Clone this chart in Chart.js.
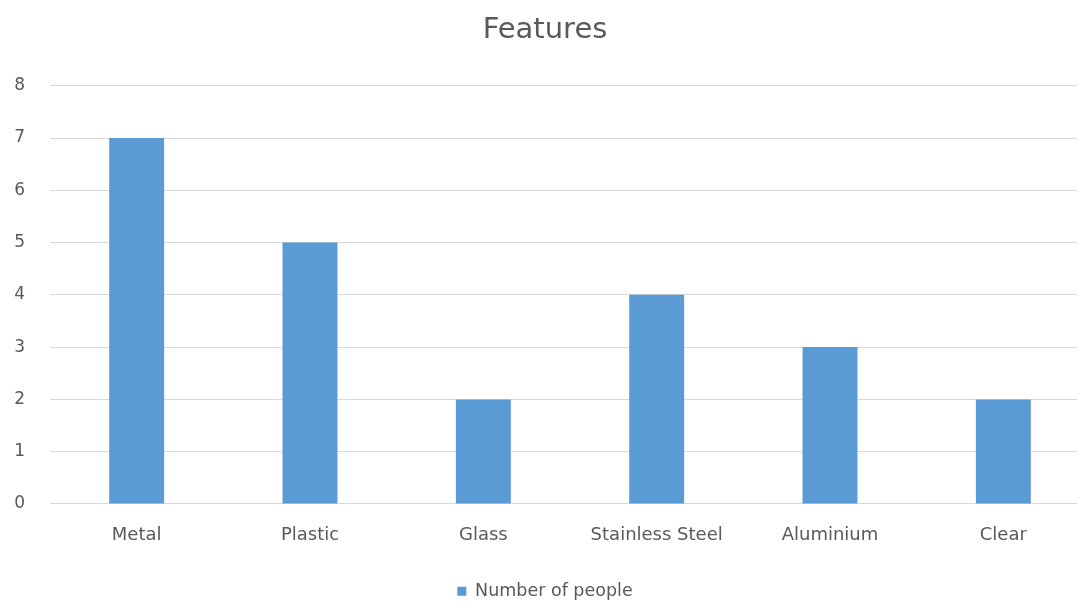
<!DOCTYPE html>
<html>
<head>
<meta charset="utf-8">
<title>Features</title>
<script src="https://cdn.jsdelivr.net/npm/chart.js@4.4.1/dist/chart.umd.min.js"></script>
<style>
  html, body { margin: 0; padding: 0; background: #fff; overflow: hidden; }
  /* the chart is wider than the view; its right margin is cut off */
  #wrap { width: 1077px; height: 604px; overflow: hidden; }
</style>
</head>
<body>
<div id="wrap"><canvas id="featuresChart" width="1122" height="604"></canvas></div>
<script>
// materials and how many people picked each
const categories = ["Metal", "Plastic", "Glass", "Stainless Steel", "Aluminium", "Clear"];
const peopleCounts = [7, 5, 2, 4, 3, 2];
const yTicks = [0, 1, 2, 3, 4, 5, 6, 7, 8];

const textGray = "#595959";
const barBlue = "#5B9BD5";
const fontFamily = "'DejaVu Sans', sans-serif";

new Chart(document.getElementById("featuresChart"), {
  type: "bar",
  data: {
    labels: categories,
    datasets: [{
      label: "Number of people",
      data: peopleCounts,
      backgroundColor: barBlue,
      borderWidth: 0,
      barPercentage: 1,
      categoryPercentage: 0.317
    }]
  },
  options: {
    responsive: false,
    animation: false,
    layout: { padding: { left: 0, right: 32, top: 0, bottom: -6 } },
    plugins: {
      title: {
        display: true,
        text: "Features",
        color: textGray,
        font: { family: fontFamily, size: 29, weight: "normal" },
        padding: { top: 13, bottom: 38 }
      },
      legend: {
        position: "bottom",
        labels: {
          color: textGray,
          font: { family: fontFamily, size: 17.5 },
          boxWidth: 9,
          boxHeight: 9,
          padding: 10
        }
      },
      tooltip: { enabled: false }
    },
    scales: {
      x: {
        afterFit: (scale) => { scale.height += 5; },
        grid: { display: false, drawTicks: false },
        border: { display: false },
        ticks: {
          color: textGray,
          font: { family: fontFamily, size: 18 },
          padding: 21,
          maxRotation: 0
        }
      },
      y: {
        min: 0,
        max: 8,
        afterFit: (scale) => { scale.width = 50; },
        afterBuildTicks: (scale) => { scale.ticks = yTicks.map(v => ({ value: v })); },
        grid: { color: "#D9D9D9", lineWidth: 1, drawTicks: false },
        border: { display: false },
        ticks: {
          color: textGray,
          font: { family: fontFamily, size: 17 },
          padding: 25
        }
      }
    }
  }
});
</script>
</body>
</html>
